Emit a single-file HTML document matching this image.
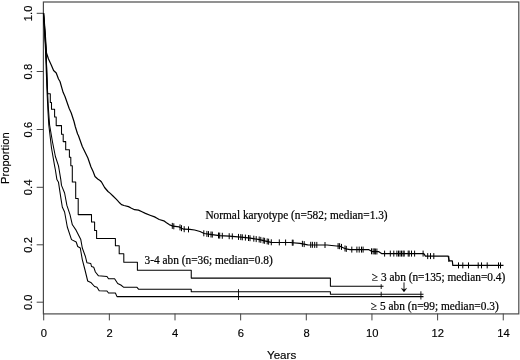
<!DOCTYPE html>
<html><head><meta charset="utf-8"><style>
html,body{margin:0;padding:0;background:#fff;}
svg{display:block;filter:grayscale(1);}
.s{font-family:"Liberation Sans",sans-serif;font-size:11.2px;fill:#000;stroke:#000;stroke-width:0.15px;}
.t{font-family:"Liberation Serif",serif;font-size:11.35px;fill:#000;stroke:#000;stroke-width:0.2px;}
</style></head><body>
<svg width="520" height="360" viewBox="0 0 520 360">
<rect width="520" height="360" fill="#fff"/>
<rect x="43.4" y="2.0" width="475.4" height="311.9" fill="none" stroke="#4a4a4a" stroke-width="1.2"/>
<path d="M43.70,313.6v6.8M109.35,313.6v6.8M175.00,313.6v6.8M240.65,313.6v6.8M306.30,313.6v6.8M371.95,313.6v6.8M437.60,313.6v6.8M503.25,313.6v6.8M43.5,302.20h-6.8M43.5,244.80h-6.8M43.5,187.30h-6.8M43.5,129.50h-6.8M43.5,71.50h-6.8M43.5,13.30h-6.8" stroke="#444" stroke-width="1" fill="none"/>
<g class="s"><text x="43.90" y="336.8" text-anchor="middle">0</text><text x="109.55" y="336.8" text-anchor="middle">2</text><text x="175.20" y="336.8" text-anchor="middle">4</text><text x="240.85" y="336.8" text-anchor="middle">6</text><text x="306.50" y="336.8" text-anchor="middle">8</text><text x="372.15" y="336.8" text-anchor="middle">10</text><text x="437.80" y="336.8" text-anchor="middle">12</text><text x="503.45" y="336.8" text-anchor="middle">14</text><text transform="translate(31.9,302.30) rotate(-90)" text-anchor="middle">0.0</text><text transform="translate(31.9,244.90) rotate(-90)" text-anchor="middle">0.2</text><text transform="translate(31.9,187.40) rotate(-90)" text-anchor="middle">0.4</text><text transform="translate(31.9,129.60) rotate(-90)" text-anchor="middle">0.6</text><text transform="translate(31.9,71.60) rotate(-90)" text-anchor="middle">0.8</text><text transform="translate(31.9,13.40) rotate(-90)" text-anchor="middle">1.0</text>
<text x="281.6" y="358.6" text-anchor="middle" style="font-size:11.6px">Years</text>
<text transform="translate(9.4,158.2) rotate(-90)" text-anchor="middle">Proportion</text>
</g>
<g fill="none" stroke="#000" stroke-linejoin="round">
<path d="M43.60,13.10 L45.00,30.00 L46.50,53.00 L48.50,59.00 L51.25,65.00 L53.60,70.50 L56.25,73.00 L58.50,79.00 L60.00,81.50 L63.10,92.30 L65.00,96.50 L69.20,108.50 L71.25,113.00 L74.00,121.50 L75.40,127.00 L77.60,134.00 L78.40,135.50 L82.30,146.50 L87.90,158.00 L91.00,167.00 L93.10,171.50 L95.00,176.50 L97.70,179.00 L100.00,180.50 L101.50,182.00 L104.60,187.50 L108.00,191.50 L110.00,193.10 L113.00,196.00 L116.20,199.20 L119.00,202.20 L121.50,204.60 L124.00,205.50 L128.50,206.60 L131.50,208.20 L134.60,209.70 L138.50,210.10 L142.00,211.80 L145.40,213.40 L150.00,215.20 L154.60,216.90 L157.00,218.20 L159.20,219.50 L163.80,220.80 L166.50,222.80 L169.20,224.60 L173.00,226.20 L179.20,226.90 L181.50,228.20 L183.80,229.20 L190.00,229.40 L194.60,230.00 L200.00,231.50 L204.20,233.50 L212.00,234.60 L219.60,235.60 L229.20,236.20 L240.80,237.10 L250.40,238.20 L259.60,239.60 L264.60,240.80 L268.00,241.60 L271.00,242.30 L290.00,242.50 L300.00,243.30 L307.70,244.80 L327.00,245.00 L336.50,246.00 L340.00,246.20 L344.20,248.20 L346.00,248.80 L350.00,249.60 L368.50,249.60 L371.50,251.30 L378.50,251.60 L381.50,253.60 L423.80,253.60 L425.40,256.10 L448.20,256.10 L449.20,260.80 L452.30,260.80 L452.80,265.40 L503.50,265.40" stroke-width="1.2"/>
<path d="M172.3,222.9v6M173.8,223.3v6M180.0,224.4v6M181.5,225.2v6M184.2,226.2v6M188.5,226.4v6M203.8,230.3v6M206.9,230.9v6M208.5,231.1v6M211.0,231.5v6M212.3,231.6v6M218.5,232.5v6M219.7,232.6v6M222.3,232.8v6M229.2,233.2v6M232.3,233.4v6M238.5,233.9v6M240.8,234.1v6M242.3,234.3v6M245.4,234.6v6M248.5,235.0v6M250.0,235.2v6M253.8,235.7v6M256.2,236.1v6M259.2,236.5v6M260.8,236.9v6M263.2,237.5v6M264.6,237.8v6M267.2,238.4v6M268.6,238.7v6M271.3,239.3v6M279.3,239.4v6M285.6,239.5v6M292.3,239.7v6M293.1,239.7v6M302.4,240.8v6M304.2,241.1v6M310.7,241.8v6M312.4,241.8v6M314.7,241.9v6M316.8,241.9v6M325.0,242.0v6M338.1,243.1v6M339.6,243.2v6M341.5,243.9v6M345.0,245.5v6M346.3,245.9v6M351.8,246.6v6M356.9,246.6v6M359.2,246.6v6M361.5,246.6v6M363.1,246.6v6M371.5,248.3v6M373.1,248.4v6M374.3,248.4v6M375.4,248.5v6M376.9,248.5v6M384.6,250.6v6M390.3,250.6v6M393.8,250.6v6M396.9,250.6v6M398.5,250.6v6M400.0,250.6v6M401.5,250.6v6M403.1,250.6v6M404.2,250.6v6M408.2,250.6v6M409.2,250.6v6M411.5,250.6v6M414.6,250.6v6M423.1,250.6v6M427.7,253.1v6M430.5,253.1v6M433.8,253.1v6M448.8,255.9v6M458.5,262.4v6M462.8,262.4v6M468.5,262.4v6M478.2,262.4v6M481.5,262.4v6M487.2,262.4v6M498.5,262.4v6M500.5,262.4v6" stroke-width="1"/>
<path d="M43.60,13.10 L44.80,30.00 L46.00,50.00 L47.60,93.70 L50.30,93.70 L50.30,102.50 L51.50,102.50 L51.50,109.20 L54.60,109.20 L54.60,117.00 L56.20,117.00 L56.20,125.60 L61.50,125.60 L61.50,134.20 L63.20,134.20 L63.20,141.60 L65.70,141.60 L65.70,149.80 L69.40,149.80 L69.40,157.30 L70.80,157.30 L70.80,165.80 L72.30,165.80 L72.30,182.00 L75.70,182.00 L75.70,198.50 L78.20,198.50 L78.20,214.60 L91.50,214.60 L91.50,222.00 L94.60,222.00 L94.60,230.40 L96.60,230.40 L96.60,238.50 L115.40,238.50 L115.40,245.80 L119.20,245.80 L119.20,253.70 L123.80,253.70 L123.80,262.20 L137.40,262.20 L137.40,270.30 L191.25,270.30 L191.25,278.10 L330.40,278.10 L330.40,286.30 L383.50,286.30" stroke-width="1.05"/>
<path d="M43.50,13.10 L44.60,30.00 L45.90,50.00 L47.60,93.00 L48.50,110.00 L49.60,125.00 L52.50,142.00 L55.40,156.50 L58.50,165.80 L59.20,170.00 L60.80,179.60 L61.50,185.40 L64.60,193.00 L66.90,205.40 L70.00,214.60 L72.30,224.60 L73.10,225.80 L76.20,230.40 L80.80,239.60 L82.30,248.00 L85.40,256.50 L86.90,262.70 L90.80,263.50 L91.50,266.50 L93.80,267.30 L95.40,272.00 L98.50,275.80 L107.00,276.50 L108.50,278.80 L114.60,278.80 L117.70,283.50 L120.80,285.00 L123.80,287.30 L137.00,287.30 L138.50,289.20 L191.25,289.20 L191.25,291.70 L330.40,291.70 L330.40,294.20 L423.50,294.20" stroke-width="1.05"/>
<path d="M43.40,13.10 L44.40,30.00 L45.50,50.00 L47.10,93.00 L47.90,110.00 L48.80,125.00 L51.50,148.00 L54.60,165.80 L55.40,170.00 L56.90,179.60 L58.50,182.30 L60.80,197.70 L62.30,207.00 L64.60,212.00 L67.30,227.00 L71.50,239.60 L76.20,242.00 L77.70,246.50 L80.30,248.00 L81.50,255.00 L82.30,259.60 L85.00,270.00 L87.70,281.00 L90.80,282.40 L94.60,286.50 L97.00,287.30 L99.20,290.70 L107.00,291.00 L108.50,293.00 L115.40,293.00 L117.00,296.60 L423.50,296.60" stroke-width="1.05"/>
<path d="M238.5,289.2v10.8 M381.2,284.2v4.8 M381.2,291.8v4.8 M420.9,291.3v8.2" stroke-width="0.9"/>
<path d="M404,282.4V291" stroke-width="0.9"/>
<path d="M401.2,288.2L404,289.6L406.8,288.2L404,292Z" stroke-width="0.3" fill="#000"/>
</g>
<g class="t">
<text transform="translate(205.4,218.5) scale(1,1.1)">Normal karyotype (n=582; median=1.3)</text>
<text transform="translate(144.6,263.9) scale(1,1.1)">3-4 abn (n=36; median=0.8)</text>
<text transform="translate(371.9,280.8) scale(1,1.1)">≥ 3 abn (n=135; median=0.4)</text>
<text transform="translate(371,310.3) scale(1,1.1)">≥ 5 abn (n=99; median=0.3)</text>
</g>
</svg>
</body></html>
